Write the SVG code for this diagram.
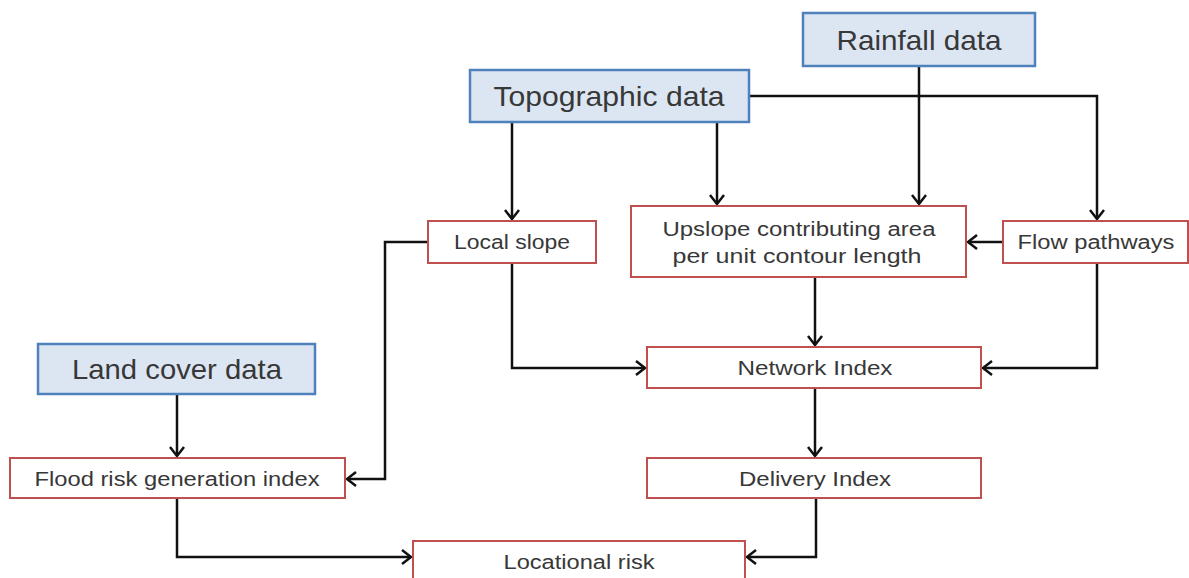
<svg xmlns="http://www.w3.org/2000/svg" width="1189" height="578" viewBox="0 0 1189 578">
<style>
.src{fill:#dce6f2;stroke:#4f81bd;stroke-width:2.5}
.proc{fill:#ffffff;stroke:#c0504d;stroke-width:2}
.big{font-family:"Liberation Sans",Arial,sans-serif;font-size:28px;fill:#383838;text-anchor:middle;dominant-baseline:central}
.sm{font-family:"Liberation Sans",Arial,sans-serif;font-size:20px;fill:#383838;text-anchor:middle;dominant-baseline:central}
.c{fill:none;stroke:#111;stroke-width:2.5}
</style>
<defs>
<marker id="ah" markerUnits="userSpaceOnUse" markerWidth="16" markerHeight="18" refX="11" refY="8" orient="auto">
<path d="M2,1 L11,8 L2,15" fill="none" stroke="#111" stroke-width="2.5"/>
</marker>
</defs>
<rect width="1189" height="578" fill="#fff"/>
<g id="connectors">
<path class="c" d="M512,122 V219" marker-end="url(#ah)"/>
<path class="c" d="M717,122 V204" marker-end="url(#ah)"/>
<path class="c" d="M749,96 H1097 V219" marker-end="url(#ah)"/>
<path class="c" d="M919,66 V204" marker-end="url(#ah)"/>
<path class="c" d="M1003,242 H968" marker-end="url(#ah)"/>
<path class="c" d="M428,242 H385 V479 H347" marker-end="url(#ah)"/>
<path class="c" d="M512,263 V368 H645" marker-end="url(#ah)"/>
<path class="c" d="M815,277 V345" marker-end="url(#ah)"/>
<path class="c" d="M1097,263 V368 H983" marker-end="url(#ah)"/>
<path class="c" d="M815,388 V456" marker-end="url(#ah)"/>
<path class="c" d="M177,394 V456" marker-end="url(#ah)"/>
<path class="c" d="M177,498 V557 H411" marker-end="url(#ah)"/>
<path class="c" d="M816,498 V557 H747" marker-end="url(#ah)"/>
</g>
<g id="rainfall"><rect class="src" x="803" y="13" width="232" height="53"/><text class="big" x="919" y="40" textLength="165" lengthAdjust="spacingAndGlyphs">Rainfall data</text></g>
<g id="topographic"><rect class="src" x="470" y="70" width="279" height="52"/><text class="big" x="609" y="96" textLength="231" lengthAdjust="spacingAndGlyphs">Topographic data</text></g>
<g id="landcover"><rect class="src" x="38" y="344" width="277" height="50"/><text class="big" x="177" y="369" textLength="210" lengthAdjust="spacingAndGlyphs">Land cover data</text></g>
<g id="localslope"><rect class="proc" x="428" y="221" width="168" height="42"/><text class="sm" x="512" y="242" textLength="116" lengthAdjust="spacingAndGlyphs">Local slope</text></g>
<g id="upslope"><rect class="proc" x="631" y="206" width="335" height="71"/><text class="sm" x="799" y="229" textLength="273" lengthAdjust="spacingAndGlyphs">Upslope contributing area</text><text class="sm" x="797" y="256" textLength="249" lengthAdjust="spacingAndGlyphs">per unit contour length</text></g>
<g id="flowpathways"><rect class="proc" x="1003" y="221" width="185" height="42"/><text class="sm" x="1096" y="242" textLength="157" lengthAdjust="spacingAndGlyphs">Flow pathways</text></g>
<g id="network"><rect class="proc" x="647" y="347" width="334" height="41"/><text class="sm" x="815" y="368" textLength="155" lengthAdjust="spacingAndGlyphs">Network Index</text></g>
<g id="delivery"><rect class="proc" x="647" y="458" width="334" height="40"/><text class="sm" x="815" y="479" textLength="152" lengthAdjust="spacingAndGlyphs">Delivery Index</text></g>
<g id="floodrisk"><rect class="proc" x="10" y="458" width="335" height="40"/><text class="sm" x="177" y="479" textLength="285" lengthAdjust="spacingAndGlyphs">Flood risk generation index</text></g>
<g id="locational"><rect class="proc" x="413" y="541" width="332" height="40"/><text class="sm" x="579" y="562" textLength="151" lengthAdjust="spacingAndGlyphs">Locational risk</text></g>
</svg>
